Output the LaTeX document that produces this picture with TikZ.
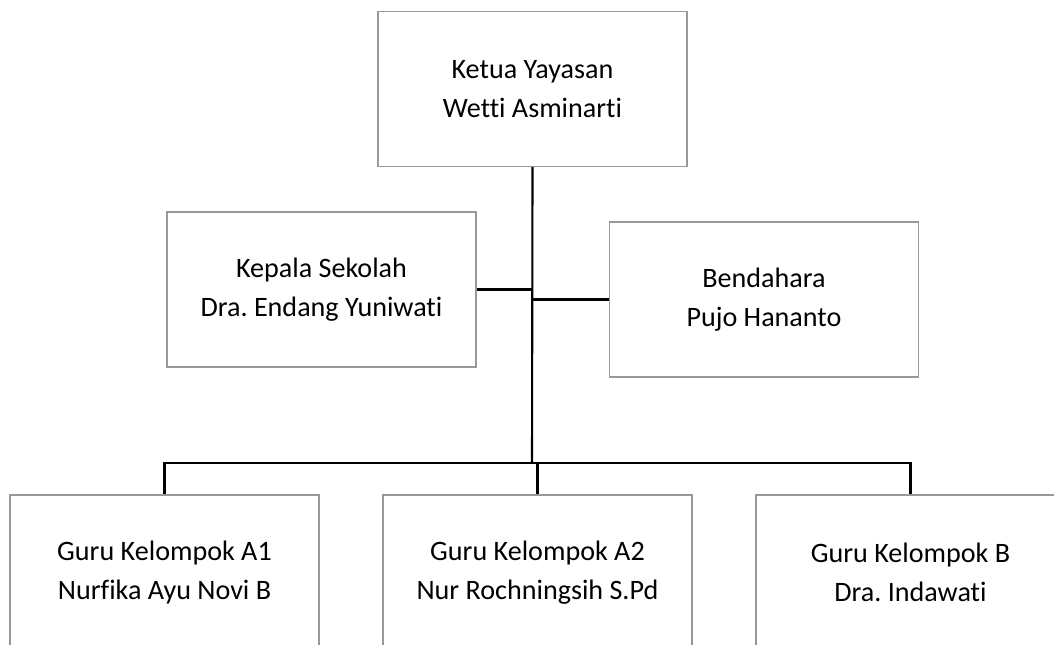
\documentclass[tikz,border=0pt]{standalone}
\usepackage{fontspec}
\setmainfont{Carlito}[Ligatures=NoCommon]
\usepackage{amsmath}
\frenchspacing

\begin{document}
\begin{tikzpicture}[x=0.2mm,y=-0.2mm,
  box/.style={shape=rectangle,draw=black!40,line width=0.6pt,fill=white,
    minimum width=61.8mm,minimum height=31mm,inner sep=0pt,align=center,
    font=\fontsize{16}{22}\selectfont},
  link/.style={draw=black,line width=1.2pt}]
\useasboundingbox (0,0) rectangle (1054,644);
\begin{scope}
\clip (0,0) rectangle (1054,644);
\node[box] (ketua) at (532.5,89) {Ketua Yayasan\\Wetti Asminarti};
\node[box] (kepsek) at (321.5,289.5) {Kepala Sekolah\\Dra. Endang Yuniwati};
\node[box] (bendahara) at (764,299.5) {Bendahara\\Pujo Hananto};
\node[box] (a1) at (164.5,572.5) {Guru Kelompok A1\\Nurfika Ayu Novi B};
\node[box] (a2) at (537.5,572.5) {Guru Kelompok A2\\Nur Rochningsih S.Pd};
\node[box] (b) at (910.5,572.5) {Guru Kelompok B\\Dra. Indawati};
\coordinate (bus) at (532,463);

\path[link] (ketua.south) -- (bus);
\path[link] (kepsek.east) -- (kepsek.east -| bus);
\path[link] (bendahara.west) -- (bendahara.west -| bus);
\path[link] (a1.north) |- (bus) -| (b.north);
\path[link] (a2.north) -- (a2.north |- bus);
\end{scope}
\end{tikzpicture}
\end{document}
